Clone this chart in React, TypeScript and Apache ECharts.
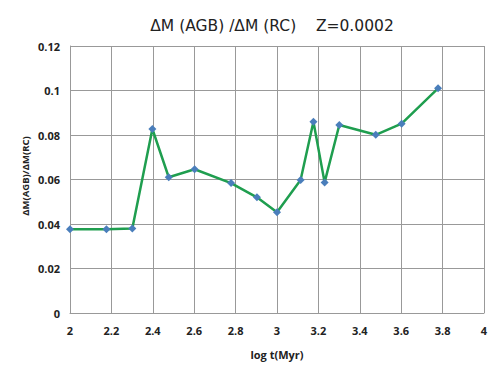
import React, { useEffect, useRef } from "react";
import * as echarts from "echarts";

const logAge = [2.0, 2.176, 2.301, 2.398, 2.477, 2.602, 2.778, 2.903, 3.0, 3.114, 3.176, 3.23, 3.301, 3.477, 3.602, 3.778];
const ratio = [0.0376, 0.0376, 0.038, 0.0827, 0.061, 0.0646, 0.0584, 0.052, 0.0453, 0.0598, 0.086, 0.0587, 0.0845, 0.0801, 0.0851, 0.101];
const titleText = "ΔM (AGB) /ΔM (RC)    Z=0.0002";
const xName = "log t(Myr)";
const yName = "ΔM(AGB)/ΔM(RC)";

export default function App() {
  const ref = useRef<HTMLDivElement>(null);
  useEffect(() => {
    if (!ref.current) return;
    const chart = echarts.init(ref.current, null, { renderer: "svg" });
    const data = logAge.map((x, i) => [x, ratio[i]]);
    const labelFont = { fontFamily: "Open Sans", fontWeight: "bold" as const, fontSize: 11, color: "#222" };
    chart.setOption({
      animation: false,
      backgroundColor: "#fff",
      title: {
        text: titleText,
        left: 267,
        textAlign: "center",
        top: 13,
        textStyle: { fontFamily: "DejaVu Sans", fontWeight: "normal", fontSize: 15.5, color: "#222" },
      },
      graphic: [
        {
          type: "text",
          x: 25,
          y: 176,
          rotation: Math.PI / 2,
          style: {
            text: yName,
            fontFamily: "Open Sans",
            fontWeight: "bold",
            fontSize: 9.5,
            fill: "#222",
            align: "center",
            verticalAlign: "middle",
          },
        },
      ],
      grid: { left: 70, right: 16, top: 46, bottom: 53 },
      xAxis: {
        type: "value",
        min: 2,
        max: 4,
        interval: 0.2,
        name: xName,
        nameLocation: "middle",
        nameGap: 36,
        nameTextStyle: labelFont,
        axisLine: { show: true, lineStyle: { color: "#999" } },
        axisTick: { show: false },
        axisLabel: { ...labelFont, margin: 12, formatter: (v: number) => String(Math.round(v * 10) / 10) },
        splitLine: { show: true, lineStyle: { color: "#999", width: 1 } },
      },
      yAxis: {
        type: "value",
        min: 0,
        max: 0.12,
        interval: 0.02,
        axisLine: { show: true, lineStyle: { color: "#999" } },
        axisTick: { show: false },
        axisLabel: { ...labelFont, margin: 10, formatter: (v: number) => String(Math.round(v * 100) / 100) },
        splitLine: { show: true, lineStyle: { color: "#999", width: 1 } },
      },
      series: [
        {
          type: "line",
          data,
          lineStyle: { color: "#1f9e4f", width: 2.5 },
          itemStyle: { color: "#4a7ebb" },
          symbol: "diamond",
          symbolSize: 8,
          showAllSymbol: true,
        },
      ],
    });
    return () => chart.dispose();
  }, []);
  return <div ref={ref} style={{ position: "fixed", left: 0, top: 0, width: 500, height: 366 }} />;
}
